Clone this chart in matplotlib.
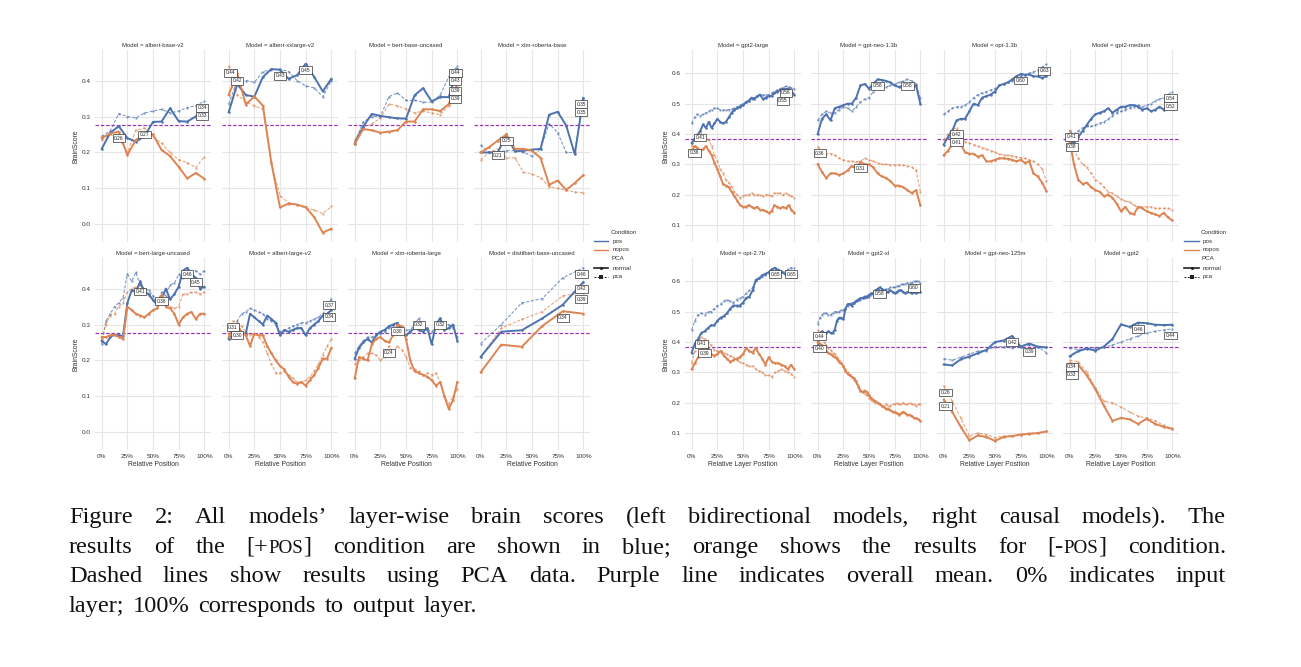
import re
import numpy as np
import matplotlib
matplotlib.use('Agg')
import matplotlib.pyplot as plt
from matplotlib.lines import Line2D

# ---------------- data ----------------
left_models = ['albert-base-v2', 'albert-xxlarge-v2', 'bert-base-uncased', 'xlm-roberta-base',
               'bert-large-uncased', 'albert-large-v2', 'xlm-roberta-large', 'distilbert-base-uncased']
right_models = ['gpt2-large', 'gpt-neo-1.3b', 'opt-1.3b', 'gpt2-medium',
                'opt-2.7b', 'gpt2-xl', 'gpt-neo-125m', 'gpt2']

albert_base_v2_pos = [0.21, 0.255, 0.273, 0.24, 0.23, 0.245, 0.285, 0.286, 0.323, 0.287, 0.286, 0.30, 0.328]
albert_base_v2_pos_pca = [0.245, 0.26, 0.308, 0.30, 0.296, 0.31, 0.315, 0.32, 0.31, 0.315, 0.325, 0.33, 0.343]
albert_base_v2_nopos = [0.24, 0.253, 0.258, 0.193, 0.235, 0.25, 0.25, 0.207, 0.19, 0.16, 0.128, 0.143, 0.127]
albert_base_v2_nopos_pca = [0.235, 0.25, 0.24, 0.20, 0.262, 0.268, 0.245, 0.225, 0.20, 0.18, 0.172, 0.158, 0.188]

albert_xxlarge_v2_pos = [0.312, 0.39, 0.36, 0.355, 0.41, 0.432, 0.43, 0.405, 0.415, 0.447, 0.41, 0.37, 0.405]
albert_xxlarge_v2_pos_pca = [0.335, 0.40, 0.40, 0.395, 0.425, 0.43, 0.432, 0.425, 0.40, 0.385, 0.38, 0.355, 0.40]
albert_xxlarge_v2_nopos = [0.36, 0.42, 0.333, 0.356, 0.33, 0.17, 0.047, 0.058, 0.055, 0.048, 0.02, -0.023, -0.012]
albert_xxlarge_v2_nopos_pca = [0.44, 0.36, 0.34, 0.33, 0.32, 0.17, 0.08, 0.06, 0.055, 0.045, 0.04, 0.03, 0.05]

bert_base_uncased_pos = [0.224, 0.272, 0.307, 0.302, 0.298, 0.295, 0.294, 0.359, 0.379, 0.342, 0.354, 0.354, 0.432]
bert_base_uncased_pos_pca = [0.23, 0.285, 0.30, 0.30, 0.355, 0.366, 0.345, 0.345, 0.34, 0.34, 0.36, 0.41, 0.44]
bert_base_uncased_nopos = [0.224, 0.265, 0.262, 0.255, 0.258, 0.262, 0.286, 0.286, 0.32, 0.32, 0.315, 0.335, 0.39]
bert_base_uncased_nopos_pca = [0.235, 0.27, 0.28, 0.295, 0.335, 0.33, 0.32, 0.31, 0.315, 0.31, 0.305, 0.33, 0.388]

xlm_roberta_base_pos = [0.20, 0.20, 0.20, 0.25, 0.203, 0.205, 0.208, 0.21, 0.305, 0.313, 0.275, 0.195, 0.352]
xlm_roberta_base_pos_pca = [0.22, 0.20, 0.20, 0.205, 0.205, 0.20, 0.19, 0.21, 0.28, 0.255, 0.20, 0.20, 0.35]
xlm_roberta_base_nopos = [0.20, 0.215, 0.233, 0.25, 0.21, 0.21, 0.205, 0.185, 0.11, 0.122, 0.096, 0.115, 0.137]
xlm_roberta_base_nopos_pca = [0.18, 0.20, 0.21, 0.185, 0.185, 0.145, 0.14, 0.13, 0.105, 0.10, 0.095, 0.09, 0.088]

bert_large_uncased_pos = [0.255, 0.245, 0.265, 0.272, 0.27, 0.268, 0.36, 0.395, 0.39, 0.42,
                          0.39, 0.385, 0.368, 0.355, 0.37, 0.40, 0.37, 0.385, 0.405, 0.45,
                          0.458, 0.44, 0.43, 0.40, 0.405]
bert_large_uncased_pos_pca = [0.245, 0.31, 0.33, 0.35, 0.36, 0.375, 0.44, 0.42, 0.445, 0.41,
                              0.40, 0.395, 0.38, 0.36, 0.39, 0.38, 0.41, 0.415, 0.44, 0.43,
                              0.435, 0.44, 0.45, 0.44, 0.45]
bert_large_uncased_nopos = [0.265, 0.265, 0.27, 0.272, 0.265, 0.26, 0.35, 0.34, 0.33, 0.325,
                            0.32, 0.33, 0.34, 0.345, 0.383, 0.35, 0.345, 0.33, 0.30, 0.32,
                            0.33, 0.335, 0.315, 0.33, 0.33]
bert_large_uncased_nopos_pca = [0.26, 0.30, 0.325, 0.33, 0.35, 0.36, 0.39, 0.40, 0.405, 0.41,
                                0.39, 0.38, 0.37, 0.365, 0.37, 0.36, 0.35, 0.345, 0.35, 0.385,
                                0.385, 0.39, 0.39, 0.385, 0.39]

albert_large_v2_pos = [0.26, 0.27, 0.285, 0.275, 0.275, 0.33, 0.32, 0.31, 0.30, 0.325,
                       0.315, 0.305, 0.27, 0.285, 0.28, 0.285, 0.29, 0.29, 0.27, 0.29,
                       0.30, 0.31, 0.325, 0.33, 0.34]
albert_large_v2_pos_pca = [0.26, 0.28, 0.31, 0.33, 0.335, 0.345, 0.34, 0.335, 0.33, 0.315,
                           0.31, 0.30, 0.28, 0.285, 0.29, 0.295, 0.30, 0.305, 0.305, 0.31,
                           0.315, 0.32, 0.33, 0.345, 0.372]
albert_large_v2_nopos = [0.265, 0.29, 0.30, 0.28, 0.27, 0.24, 0.275, 0.27, 0.27, 0.24,
                         0.22, 0.20, 0.185, 0.175, 0.155, 0.14, 0.135, 0.14, 0.13, 0.145,
                         0.16, 0.18, 0.205, 0.205, 0.235]
albert_large_v2_nopos_pca = [0.27, 0.31, 0.305, 0.295, 0.28, 0.27, 0.275, 0.265, 0.25, 0.22,
                             0.19, 0.165, 0.165, 0.17, 0.16, 0.15, 0.14, 0.14, 0.145, 0.155,
                             0.17, 0.19, 0.215, 0.24, 0.26]

xlm_roberta_large_pos = [0.205, 0.235, 0.25, 0.26, 0.25, 0.27, 0.28, 0.285, 0.295, 0.30,
                         0.305, 0.28, 0.27, 0.28, 0.29, 0.285, 0.28, 0.29, 0.245, 0.30,
                         0.318, 0.285, 0.29, 0.30, 0.255]
xlm_roberta_large_pos_pca = [0.22, 0.24, 0.255, 0.265, 0.265, 0.27, 0.275, 0.28, 0.29, 0.30,
                             0.305, 0.29, 0.285, 0.285, 0.30, 0.318, 0.29, 0.285, 0.28, 0.29,
                             0.30, 0.295, 0.30, 0.29, 0.265]
xlm_roberta_large_nopos = [0.15, 0.21, 0.205, 0.20, 0.245, 0.26, 0.265, 0.255, 0.25, 0.27,
                           0.30, 0.295, 0.26, 0.20, 0.17, 0.165, 0.16, 0.155, 0.145, 0.13,
                           0.14, 0.10, 0.065, 0.09, 0.14]
xlm_roberta_large_nopos_pca = [0.19, 0.20, 0.21, 0.22, 0.22, 0.215, 0.20, 0.21, 0.24, 0.22,
                               0.24, 0.23, 0.21, 0.18, 0.175, 0.17, 0.16, 0.165, 0.16, 0.165,
                               0.14, 0.10, 0.08, 0.10, 0.12]

distilbert_base_uncased_pos = [0.21, 0.28, 0.284, 0.317, 0.355, 0.418]
distilbert_base_uncased_pos_pca = [0.247, 0.30, 0.36, 0.372, 0.43, 0.458]
distilbert_base_uncased_nopos = [0.167, 0.244, 0.238, 0.296, 0.337, 0.33]
distilbert_base_uncased_nopos_pca = [0.21, 0.29, 0.314, 0.336, 0.38, 0.388]

gpt2_large_pos = [0.37, 0.385, 0.395, 0.41, 0.432, 0.42, 0.44, 0.42, 0.435, 0.45,
                  0.44, 0.435, 0.44, 0.455, 0.47, 0.48, 0.485, 0.49, 0.495, 0.505,
                  0.51, 0.52, 0.515, 0.525, 0.53, 0.515, 0.52, 0.525, 0.525, 0.535,
                  0.54, 0.545, 0.55, 0.548, 0.55, 0.54, 0.53]
gpt2_large_pos_pca = [0.435, 0.455, 0.465, 0.46, 0.465, 0.47, 0.475, 0.48, 0.485, 0.485,
                      0.48, 0.478, 0.48, 0.48, 0.482, 0.485, 0.49, 0.495, 0.50, 0.505,
                      0.51, 0.515, 0.52, 0.525, 0.528, 0.528, 0.53, 0.53, 0.535, 0.54,
                      0.545, 0.55, 0.553, 0.557, 0.556, 0.553, 0.55]
gpt2_large_nopos = [0.345, 0.36, 0.355, 0.345, 0.35, 0.36, 0.345, 0.33, 0.305, 0.285,
                    0.26, 0.235, 0.23, 0.225, 0.21, 0.195, 0.18, 0.165, 0.16, 0.16,
                    0.165, 0.16, 0.155, 0.16, 0.15, 0.15, 0.145, 0.14, 0.145, 0.165,
                    0.16, 0.155, 0.16, 0.155, 0.165, 0.15, 0.14]
gpt2_large_nopos_pca = [0.36, 0.385, 0.40, 0.41, 0.39, 0.385, 0.38, 0.36, 0.33, 0.31,
                        0.285, 0.27, 0.25, 0.24, 0.225, 0.21, 0.20, 0.19, 0.195, 0.20,
                        0.20, 0.205, 0.20, 0.20, 0.20, 0.195, 0.20, 0.20, 0.195, 0.205,
                        0.205, 0.205, 0.20, 0.205, 0.20, 0.195, 0.19]

gpt_neo_1_3b_pos = [0.40, 0.45, 0.465, 0.445, 0.485, 0.49, 0.495, 0.50, 0.50, 0.52,
                    0.56, 0.565, 0.55, 0.565, 0.58, 0.578, 0.575, 0.57, 0.56, 0.555,
                    0.56, 0.56, 0.55, 0.56, 0.50]
gpt_neo_1_3b_pos_pca = [0.445, 0.465, 0.475, 0.47, 0.47, 0.48, 0.49, 0.485, 0.475, 0.49,
                        0.505, 0.515, 0.52, 0.54, 0.55, 0.555, 0.555, 0.56, 0.565, 0.57,
                        0.575, 0.58, 0.575, 0.565, 0.52]
gpt_neo_1_3b_nopos = [0.30, 0.275, 0.255, 0.27, 0.27, 0.265, 0.27, 0.28, 0.295, 0.285,
                      0.308, 0.30, 0.30, 0.29, 0.27, 0.26, 0.255, 0.245, 0.23, 0.23,
                      0.225, 0.215, 0.205, 0.215, 0.165]
gpt_neo_1_3b_nopos_pca = [0.358, 0.345, 0.335, 0.335, 0.33, 0.32, 0.315, 0.31, 0.31, 0.308,
                          0.31, 0.32, 0.315, 0.31, 0.305, 0.30, 0.30, 0.298, 0.298, 0.298,
                          0.297, 0.295, 0.29, 0.28, 0.21]

opt_1_3b_pos = [0.365, 0.39, 0.41, 0.445, 0.45, 0.45, 0.475, 0.50, 0.495, 0.52,
                0.525, 0.53, 0.54, 0.56, 0.565, 0.57, 0.58, 0.59, 0.598, 0.595,
                0.597, 0.59, 0.59, 0.585, 0.59]
opt_1_3b_pos_pca = [0.465, 0.475, 0.485, 0.49, 0.49, 0.495, 0.505, 0.52, 0.53, 0.535,
                    0.54, 0.545, 0.55, 0.56, 0.565, 0.57, 0.575, 0.58, 0.59, 0.595,
                    0.60, 0.605, 0.61, 0.62, 0.63]
opt_1_3b_nopos = [0.33, 0.345, 0.365, 0.41, 0.365, 0.34, 0.335, 0.335, 0.325, 0.33,
                  0.31, 0.31, 0.315, 0.32, 0.32, 0.318, 0.315, 0.31, 0.315, 0.305,
                  0.31, 0.27, 0.26, 0.24, 0.212]
opt_1_3b_nopos_pca = [0.38, 0.40, 0.415, 0.42, 0.39, 0.375, 0.37, 0.365, 0.36, 0.355,
                      0.35, 0.345, 0.34, 0.335, 0.33, 0.33, 0.328, 0.325, 0.322, 0.32,
                      0.315, 0.31, 0.30, 0.285, 0.245]

gpt2_medium_pos = [0.37, 0.375, 0.39, 0.41, 0.43, 0.45, 0.465, 0.47, 0.475, 0.485,
                   0.47, 0.48, 0.49, 0.49, 0.495, 0.495, 0.49, 0.48, 0.485, 0.475,
                   0.48, 0.49, 0.48, 0.50, 0.52]
gpt2_medium_pos_pca = [0.41, 0.40, 0.41, 0.42, 0.425, 0.425, 0.43, 0.435, 0.44, 0.45,
                       0.46, 0.47, 0.475, 0.48, 0.485, 0.49, 0.495, 0.49, 0.495, 0.50,
                       0.51, 0.515, 0.52, 0.53, 0.54]
gpt2_medium_nopos = [0.38, 0.30, 0.25, 0.235, 0.24, 0.225, 0.215, 0.21, 0.195, 0.20,
                     0.19, 0.17, 0.145, 0.16, 0.14, 0.135, 0.16, 0.155, 0.145, 0.14,
                     0.135, 0.13, 0.14, 0.125, 0.115]
gpt2_medium_nopos_pca = [0.413, 0.35, 0.32, 0.30, 0.29, 0.27, 0.25, 0.24, 0.225, 0.21,
                         0.205, 0.195, 0.185, 0.18, 0.175, 0.165, 0.16, 0.16, 0.16, 0.16,
                         0.155, 0.155, 0.155, 0.155, 0.15]

opt_2_7b_pos = [0.365, 0.395, 0.41, 0.43, 0.435, 0.445, 0.455, 0.455, 0.47, 0.48,
                0.485, 0.495, 0.51, 0.52, 0.52, 0.52, 0.53, 0.545, 0.55, 0.57,
                0.605, 0.61, 0.62, 0.625, 0.63, 0.64, 0.645, 0.635, 0.63, 0.625,
                0.62, 0.625, 0.615]
opt_2_7b_pos_pca = [0.44, 0.47, 0.49, 0.495, 0.49, 0.50, 0.50, 0.51, 0.52, 0.525,
                    0.535, 0.54, 0.535, 0.53, 0.54, 0.545, 0.55, 0.56, 0.57, 0.58,
                    0.60, 0.61, 0.615, 0.62, 0.625, 0.63, 0.635, 0.64, 0.635, 0.63,
                    0.64, 0.645, 0.645]
opt_2_7b_nopos = [0.31, 0.33, 0.35, 0.37, 0.385, 0.38, 0.36, 0.355, 0.36, 0.37,
                  0.355, 0.345, 0.335, 0.34, 0.345, 0.35, 0.36, 0.38, 0.37, 0.365,
                  0.38, 0.36, 0.345, 0.325, 0.35, 0.335, 0.33, 0.33, 0.325, 0.32,
                  0.31, 0.325, 0.31]
opt_2_7b_nopos_pca = [0.33, 0.37, 0.40, 0.415, 0.41, 0.40, 0.39, 0.375, 0.37, 0.37,
                      0.365, 0.36, 0.355, 0.35, 0.34, 0.335, 0.33, 0.325, 0.32, 0.32,
                      0.31, 0.305, 0.30, 0.29, 0.29, 0.285, 0.30, 0.305, 0.31, 0.305,
                      0.30, 0.295, 0.285]

gpt2_xl_pos = [0.38, 0.43, 0.435, 0.43, 0.43, 0.435, 0.43, 0.43, 0.44, 0.47,
               0.48, 0.48, 0.475, 0.51, 0.525, 0.525, 0.52, 0.53, 0.535, 0.54,
               0.545, 0.545, 0.55, 0.55, 0.555, 0.56, 0.56, 0.57, 0.575, 0.58,
               0.575, 0.57, 0.565, 0.565, 0.57, 0.565, 0.56, 0.565, 0.57, 0.57,
               0.565, 0.56, 0.565, 0.565, 0.56, 0.565, 0.56, 0.565, 0.565]
gpt2_xl_pos_pca = [0.46, 0.48, 0.49, 0.495, 0.495, 0.49, 0.49, 0.495, 0.50, 0.50,
                   0.50, 0.505, 0.505, 0.51, 0.52, 0.525, 0.53, 0.53, 0.535, 0.54,
                   0.54, 0.545, 0.545, 0.55, 0.55, 0.555, 0.56, 0.56, 0.565, 0.565,
                   0.57, 0.57, 0.575, 0.575, 0.58, 0.58, 0.58, 0.585, 0.585, 0.59,
                   0.59, 0.59, 0.595, 0.595, 0.595, 0.60, 0.60, 0.60, 0.595]
gpt2_xl_nopos = [0.40, 0.395, 0.39, 0.38, 0.37, 0.365, 0.36, 0.355, 0.35, 0.345,
                 0.335, 0.33, 0.32, 0.305, 0.295, 0.29, 0.285, 0.28, 0.27, 0.255,
                 0.24, 0.235, 0.24, 0.235, 0.225, 0.215, 0.21, 0.205, 0.20, 0.195,
                 0.19, 0.185, 0.18, 0.18, 0.175, 0.17, 0.17, 0.165, 0.16, 0.165,
                 0.17, 0.165, 0.16, 0.16, 0.155, 0.15, 0.15, 0.145, 0.14]
gpt2_xl_nopos_pca = [0.44, 0.425, 0.415, 0.40, 0.39, 0.38, 0.375, 0.365, 0.36, 0.35,
                     0.34, 0.33, 0.32, 0.31, 0.30, 0.29, 0.285, 0.275, 0.265, 0.25,
                     0.24, 0.235, 0.23, 0.225, 0.215, 0.21, 0.205, 0.20, 0.20, 0.195,
                     0.19, 0.19, 0.195, 0.19, 0.19, 0.195, 0.195, 0.20, 0.195, 0.195,
                     0.20, 0.195, 0.195, 0.20, 0.195, 0.195, 0.19, 0.195, 0.195]

gpt_neo_125m_pos = [0.326, 0.323, 0.343, 0.352, 0.363, 0.374, 0.40, 0.405, 0.42, 0.385, 0.395, 0.385, 0.382]
gpt_neo_125m_pos_pca = [0.345, 0.34, 0.35, 0.36, 0.37, 0.372, 0.385, 0.385, 0.38, 0.385, 0.39, 0.385, 0.365]
gpt_neo_125m_nopos = [0.21, 0.17, 0.12, 0.076, 0.092, 0.087, 0.074, 0.087, 0.09, 0.095, 0.097, 0.10, 0.105]
gpt_neo_125m_nopos_pca = [0.255, 0.205, 0.15, 0.09, 0.10, 0.095, 0.085, 0.09, 0.09, 0.095, 0.10, 0.10, 0.105]

gpt2_pos = [0.353, 0.37, 0.378, 0.372, 0.385, 0.41, 0.458, 0.45, 0.464, 0.462, 0.457, 0.456, 0.457]
gpt2_pos_pca = [0.38, 0.375, 0.38, 0.38, 0.383, 0.39, 0.40, 0.41, 0.42, 0.43, 0.435, 0.44, 0.443]
gpt2_nopos = [0.33, 0.325, 0.29, 0.245, 0.19, 0.14, 0.15, 0.145, 0.13, 0.147, 0.13, 0.12, 0.114]
gpt2_nopos_pca = [0.34, 0.335, 0.30, 0.25, 0.205, 0.20, 0.185, 0.17, 0.155, 0.15, 0.14, 0.125, 0.115]

left_mean = 0.276
right_mean = 0.383

xtick_vals = [0, 0.25, 0.5, 0.75, 1.0]
xtick_labels = ['0%', '25%', '50%', '75%', '100%']
left_yticks = [0.0, 0.1, 0.2, 0.3, 0.4]
right_yticks = [0.1, 0.2, 0.3, 0.4, 0.5, 0.6]

caption_lines = [
    "Figure 2: All models\u2019 layer-wise brain scores (left bidirectional models, right causal models). The",
    "results of the [+POS] condition are shown in blue; orange shows the results for [-POS] condition.",
    "Dashed lines show results using PCA data. Purple line indicates overall mean. 0% indicates input",
    "layer; 100% corresponds to output layer.",
]

# ---------------- assemble ----------------
g = globals()
def series_of(name):
    key = name.replace('-', '_').replace('.', '_')
    return g[key + '_pos'], g[key + '_pos_pca'], g[key + '_nopos'], g[key + '_nopos_pca']

W, H = 1301, 667
fig = plt.figure(figsize=(W / 100, H / 100), dpi=100)
fig.patch.set_facecolor('white')

SANS = ['Liberation Sans', 'DejaVu Sans']
SERIF = ['Liberation Serif', 'DejaVu Serif']
BLUE = '#4c72b0'
ORANGE = '#dd8452'
PURPLE = '#9b30b4'
GRID = '#e6e6e6'
TXT = '#333333'


def add_ax(x, y, w, h):
    return fig.add_axes([x / W, 1 - (y + h) / H, w / W, h / H])


def place_labels(ax, lines):
    items = []
    for vals in lines:
        i = int(np.argmax(vals))
        items.append((i / (len(vals) - 1), vals[i], f'{vals[i]:.2f}'))
    items.sort(key=lambda t: -t[1])
    bb = ax.bbox
    bw, bh = 15.5, 8.0
    placed = []
    for x, y, s in items:
        px, py = ax.transData.transform((x, y))
        cx = min(max(px, bb.x0 + bw / 2 + 1), bb.x1 - bw / 2 - 1)
        top = py - 4
        moved = True
        while moved:
            moved = False
            for ox, otop in placed:
                if abs(ox - cx) < bw and abs(otop - top) < bh - 0.1:
                    top = otop - bh
                    moved = True
        placed.append((cx, top))
        dx, dy = ax.transData.inverted().transform((cx, top))
        ax.text(dx, dy, s, ha='center', va='top', fontsize=3.5, family=SANS, color='#222222',
                zorder=10,
                bbox=dict(boxstyle='square,pad=0.3', fc='white', ec='#333333', lw=0.5))


def draw_panel(ax, name, ylim, yticks, mean, show_x, show_y, xlabel):
    pos, pos_pca, nopos, nopos_pca = series_of(name)
    ax.set_facecolor('white')
    for s in ax.spines.values():
        s.set_visible(False)
    ax.set_xlim(-0.065, 1.065)
    ax.set_ylim(*ylim)
    ax.set_xticks(xtick_vals)
    ax.set_yticks(yticks)
    ax.grid(True, color=GRID, lw=0.8)
    ax.set_axisbelow(True)
    ax.tick_params(length=0, labelsize=4.6, labelcolor=TXT, pad=3)
    if show_x:
        ax.set_xticklabels(xtick_labels, family=SANS)
        ax.set_xlabel(xlabel, fontsize=4.9, color=TXT, labelpad=1.5, family=SANS)
    else:
        ax.set_xticklabels([])
    if show_y:
        ax.set_yticklabels([f'{v:.1f}' for v in yticks], family=SANS)
        ax.set_ylabel('BrainScore', fontsize=4.9, color=TXT, labelpad=2, family=SANS)
    else:
        ax.set_yticklabels([])
    ax.set_title(f'Model = {name}', fontsize=4.3, color=TXT, pad=2.5, family=SANS)
    ax.axhline(mean, color=PURPLE, lw=0.85, ls=(0, (3, 1.5)), zorder=1.5)
    for vals, color in ((pos_pca, BLUE), (nopos_pca, ORANGE)):
        x = np.arange(len(vals)) / (len(vals) - 1)
        ax.plot(x, vals, color=color, lw=0.75, ls=(0, (3, 1.6)), marker='s', ms=1.4,
                mew=0, alpha=0.75, zorder=2)
    for vals, color in ((pos, BLUE), (nopos, ORANGE)):
        x = np.arange(len(vals)) / (len(vals) - 1)
        ax.plot(x, vals, color=color, lw=1.4, marker='o', ms=1.8, mew=0, zorder=3)
    place_labels(ax, (pos, pos_pca, nopos, nopos_pca))


left_cols = [95, 222, 348, 474]
right_cols = [685, 811, 937, 1063]
rows = [50, 258]
AW, AH = 116, 192

for k, name in enumerate(left_models):
    r, c = divmod(k, 4)
    ax = add_ax(left_cols[c], rows[r], AW, AH)
    draw_panel(ax, name, (-0.049, 0.485), left_yticks, left_mean, r == 1, c == 0,
               'Relative Position')

for k, name in enumerate(right_models):
    r, c = divmod(k, 4)
    ax = add_ax(right_cols[c], rows[r], AW, AH)
    draw_panel(ax, name, (0.044, 0.677), right_yticks, right_mean, r == 1, c == 0,
               'Relative Layer Position')


# ---------------- legends ----------------
def draw_legend(hx0, hx1, tx, ys):
    entries = [('Condition', None, None, None), ('pos', BLUE, '-', None),
               ('nopos', ORANGE, '-', None), ('PCA', None, None, None),
               ('normal', '#222222', '-', 'o'), ('pca', '#222222', '--', 's')]
    for (label, color, ls, mk), y in zip(entries, ys):
        yf = 1 - y / H
        tx_ = tx - 2 if color is None else tx
        fig.text(tx_ / W, yf, label, fontsize=4.5, color=TXT, va='center', ha='left', family=SANS)
        if color is not None:
            lw = 1.0 if ls == '-' and mk is None else (1.2 if ls == '-' else 0.7)
            fig.add_artist(Line2D([hx0 / W, hx1 / W], [yf, yf], color=color, lw=lw,
                                  ls=(0, (2, 1.5)) if ls == '--' else '-',
                                  transform=fig.transFigure))
            if mk is not None:
                fig.add_artist(Line2D([(hx0 + hx1) / 2 / W], [yf], color=color, marker=mk,
                                      ms=2.2, mew=0, lw=0, transform=fig.transFigure))


legend_ys = [232, 241, 250, 259, 268, 277]
draw_legend(594, 608, 613, legend_ys)
draw_legend(1184, 1199, 1203, legend_ys)

# ---------------- caption ----------------
renderer = fig.canvas.get_renderer()
CAP = 17.6
SC = CAP * 0.78


def text_w(s, size):
    t = fig.text(0, 0, s, fontsize=size, family=SERIF)
    w = t.get_window_extent(renderer=renderer).width
    t.remove()
    return w


def segments(word):
    return [(p, SC if p == 'POS' else CAP) for p in re.split(r'(POS)', word) if p]


cap_left, cap_right = 69, 1226
baselines = [523, 552.7, 582.4, 612]
space_nat = text_w('a a', CAP) - text_w('aa', CAP)
for li, (line, yb) in enumerate(zip(caption_lines, baselines)):
    words = line.split(' ')
    segs = [segments(w) for w in words]
    widths = [[text_w(s, sz) for s, sz in sg] for sg in segs]
    total = sum(sum(ws) for ws in widths)
    if li < len(caption_lines) - 1:
        gap = (cap_right - cap_left - total) / (len(words) - 1)
    else:
        gap = space_nat * 1.4
    x = cap_left
    for sg, ws in zip(segs, widths):
        for (s, sz), w in zip(sg, ws):
            fig.text(x / W, 1 - yb / H, s, fontsize=sz, family=SERIF, color='#111111',
                     ha='left', va='baseline')
            x += w
        x += gap

fig.savefig('out.png', dpi=100, facecolor='white')
